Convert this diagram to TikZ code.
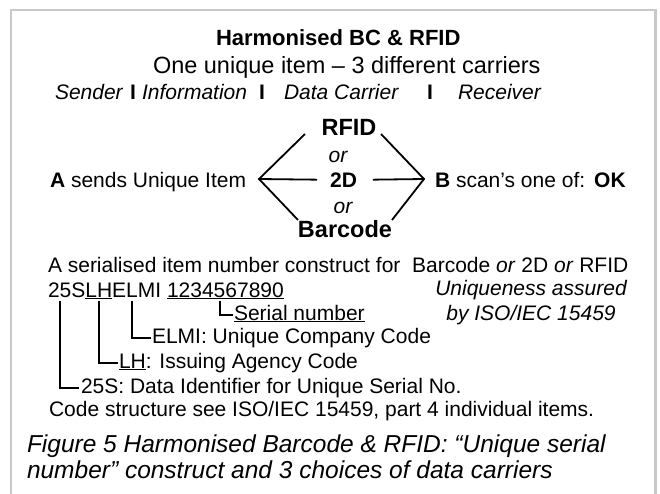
\documentclass[tikz,border=0pt]{standalone}
\usepackage{fontspec}
\setmainfont{Liberation Sans}
\newcommand\myul[1]{{\setbox0\hbox{#1}\rlap{\rule[-2.4pt]{\wd0}{1.3pt}}\box0}}
\definecolor{framegray}{RGB}{200,200,200}
\begin{document}
\begin{tikzpicture}[x=1pt,y=-1pt,
  every node/.style={inner sep=0pt,outer sep=0pt},
  body/.style={font=\fontsize{21}{25}\selectfont},
  bw/.style={anchor=base west},
  role/.style={anchor=base west,font=\fontsize{21}{25}\selectfont\itshape},
  sepbar/.style={anchor=base west,font=\fontsize{21}{25}\selectfont\bfseries},
  carrier/.style={anchor=base,font=\fontsize{23.5}{28}\selectfont\bfseries},
  ortext/.style={anchor=base,font=\fontsize{21}{25}\selectfont\itshape},
  captext/.style={anchor=base west,font=\fontsize{24.5}{29}\selectfont\itshape},
  conn/.style={line width=1.8pt,line join=miter},
  brk/.style={line width=1.7pt,line join=miter},
]
\useasboundingbox (0,0) rectangle (660,493);
\fill[white] (0,0) rectangle (660,493);
\draw[framegray,line width=2.4pt] (10.7,495) -- (10.7,10) -- (655.5,10) -- (655.5,495);

% heading
\node[bw,font=\fontsize{22}{26}\selectfont\bfseries] (title) at (216,45) {Harmonised BC \& RFID};
\node[bw,font=\fontsize{23.5}{28}\selectfont] (sub) at (153,73) {One unique item – 3 different carriers};
\node[role] (snd) at (55,99) {Sender};
\node[sepbar] (s1) at (130,99) {I};
\node[role] (inf) at (142,99) {Information};
\node[sepbar] (s2) at (259,99) {I};
\node[role] (dc) at (284,99) {Data Carrier};
\node[sepbar] (s3) at (427,99) {I};
\node[role] (rcv) at (458,99) {Receiver};

% carriers
\node[carrier] (rfid) at (349,135) {RFID};
\node[ortext] (or1) at (338,162) {or};
\node[carrier,font=\fontsize{21}{25}\selectfont\bfseries] (twod) at (343.5,187) {2D};
\node[body,bw] (senda) at (50,187) {\textbf{A} sends Unique Item};
\node[body,bw] (scanb) at (435,187) {\textbf{B} scan’s one of:\hspace{9pt}\textbf{OK}};
\node[ortext] (or2) at (343,213) {or};
\node[carrier] (bc) at (345,237) {Barcode};
\coordinate (lv) at (259,179);
\coordinate (rv) at (424,179);
\draw[conn] ([shift={(-16.6,-1)}]rfid.base west) -- (lv) -- (bc.north west);
\draw[conn] (lv) -- ([xshift=-13pt]twod.west);
\draw[conn] ([xshift=16pt]twod.east) -- (rv);
\draw[conn] ([shift={(4.6,-1)}]rfid.base east) -- (rv) -- (bc.north east);

% construct
\node[body,bw] (ser1) at (48,272) {A serialised item number construct for\ \ Barcode \textit{or} 2D \textit{or} RFID};
\node[body,bw] (c25) at (48,297) {25S};
\node[body,bw] (clh) at (c25.base east) {\myul{LH}};
\node[body,bw] (celmi) at (clh.base east) {ELMI};
\node[body,bw] (cnum) at ([xshift=5.8pt]celmi.base east) {\myul{1234567890}};
\node[body,anchor=base,font=\fontsize{21}{25}\selectfont\itshape] (uq1) at (531,295) {Uniqueness assured};
\node[body,anchor=base,font=\fontsize{21}{25}\selectfont\itshape] (uq2) at (531,320) {by ISO/IEC 15459};

\node[body,bw] (lser) at (234,320) {\myul{Serial number}};
\node[body,bw] (lelmi) at (152,343) {ELMI: Unique Company Code};
\node[body,bw] (llh) at (119,368) {\myul{LH}: Issuing Agency Code};
\node[body,bw] (l25) at (81,393) {25S: Data Identifier for Unique Serial No.};

\draw[brk] ([shift={(53,3.5)}]cnum.base west) |- ([shift={(-1,-5)}]lser.base west);
\draw[brk] ([shift={(19.7,3.5)}]celmi.base west) |- ([shift={(-1.5,-5)}]lelmi.base west);
\draw[brk] ([shift={(0,3.5)}]clh.base) |- ([shift={(-1,-5)}]llh.base west);
\draw[brk] ([shift={(12,3.5)}]c25.base west) |- ([shift={(-2,-5)}]l25.base west);

\node[body,bw] (cs) at (49,416) {Code structure see ISO/IEC 15459, part 4 individual items.};
\node[captext] (fig1) at (27,452) {Figure 5 Harmonised Barcode \& RFID: “Unique serial};
\node[captext] (fig2) at (27,478) {number” construct and 3 choices of data carriers};
\end{tikzpicture}
\end{document}
